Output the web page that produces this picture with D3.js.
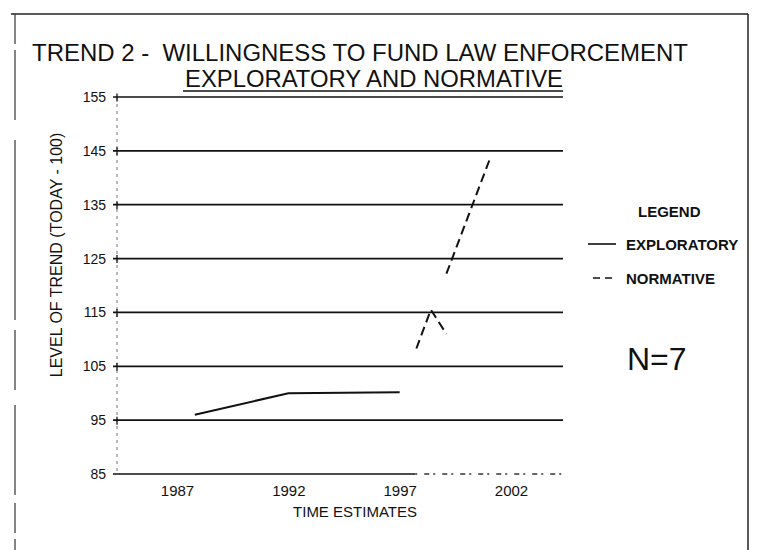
<!DOCTYPE html>
<html>
<head>
<meta charset="utf-8">
<script src="https://cdn.jsdelivr.net/npm/d3@7"></script>
<style>
  body { margin: 0; background: #fff; }
  text { font-family: "Liberation Sans", Arial, sans-serif; fill: #111; }
</style>
</head>
<body>
<div id="chart"></div>
<script>
// data
const years = [1987, 1992, 1997, 2002];
const levels = [155, 145, 135, 125, 115, 105, 95, 85];

const exploratoryYears = [1987.8, 1992, 1997];
const exploratoryValues = [96, 100, 100.2];

// normative line is broken in two pieces on the copy
const normativeYears = [1997.75, 1998.4, 1999.1, null, 1999.1, 2001.05];
const normativeValues = [108.3, 115.5, 111, null, 122.2, 143.5];

const legendLabels = ["EXPLORATORY", "NORMATIVE"];

const width = 757;
const height = 550;

const svg = d3.select("#chart")
  .append("svg")
  .attr("width", width)
  .attr("height", height);

// scales
const x = d3.scaleLinear().domain([1987, 2002]).range([177, 511]);
const y = d3.scaleLinear().domain([85, 155]).range([474, 97]);
const gridLeft = 113, gridRight = 563, axisX = 117;

// frame of the scanned page
svg.append("line")
  .attr("x1", 11).attr("x2", 748).attr("y1", 14).attr("y2", 14)
  .attr("stroke", "#222").attr("stroke-width", 1.5);
svg.append("line")
  .attr("x1", 748).attr("x2", 748).attr("y1", 14).attr("y2", height)
  .attr("stroke", "#222").attr("stroke-width", 1.5);
svg.append("line")
  .attr("x1", 15).attr("x2", 15).attr("y1", 14).attr("y2", height)
  .attr("stroke", "#333").attr("stroke-width", 1.2)
  .attr("stroke-dasharray", "30 6 70 20 180 10 60 15 90 8");

// title
svg.append("text")
  .attr("x", 32).attr("y", 61)
  .style("font-size", "23px")
  .attr("xml:space", "preserve")
  .attr("textLength", 656)
  .attr("lengthAdjust", "spacingAndGlyphs")
  .text("TREND 2 -  WILLINGNESS TO FUND LAW ENFORCEMENT");
svg.append("text")
  .attr("x", 185).attr("y", 87)
  .style("font-size", "23px")
  .attr("textLength", 378)
  .attr("lengthAdjust", "spacingAndGlyphs")
  .text("EXPLORATORY AND NORMATIVE");
svg.append("line")
  .attr("x1", 183).attr("x2", 563).attr("y1", 91).attr("y2", 91)
  .attr("stroke", "#111").attr("stroke-width", 1.5);

// faint y axis line
svg.append("line")
  .attr("x1", axisX).attr("x2", axisX).attr("y1", y(155)).attr("y2", y(85))
  .attr("stroke", "#777").attr("stroke-width", 1)
  .attr("stroke-dasharray", "3 4");

// gridlines
svg.selectAll(".grid")
  .data(levels.filter(d => d !== 85))
  .enter()
  .append("line")
  .attr("class", "grid")
  .attr("x1", gridLeft).attr("x2", gridRight)
  .attr("y1", d => y(d)).attr("y2", d => y(d))
  .attr("stroke", "#111").attr("stroke-width", 1.7);

// y axis ticks and labels
const yAxis = svg.append("g")
  .attr("transform", `translate(${axisX},0)`)
  .call(d3.axisLeft(y).tickValues(levels).tickSize(0).tickPadding(11));
yAxis.select(".domain").remove();
yAxis.selectAll("text")
  .style("font-size", "14px")
  .style("font-family", "'Liberation Sans', Arial, sans-serif")
  .attr("fill", "#111");
yAxis.selectAll(".tick")
  .filter(d => d !== 85)
  .append("line")
  .attr("x1", 0).attr("x2", 0).attr("y1", -4).attr("y2", 4)
  .attr("stroke", "#111").attr("stroke-width", 1.3);

// bottom line (85), solid then broken on the right
svg.append("line")
  .attr("x1", gridLeft).attr("x2", x(1997.7))
  .attr("y1", y(85)).attr("y2", y(85))
  .attr("stroke", "#111").attr("stroke-width", 1.5);
svg.append("line")
  .attr("x1", x(1997.7)).attr("x2", gridRight)
  .attr("y1", y(85)).attr("y2", y(85))
  .attr("stroke", "#333").attr("stroke-width", 1.3)
  .attr("stroke-dasharray", "2 7 5 4");

// x axis labels
const xAxis = svg.append("g")
  .attr("transform", `translate(0,${y(85)})`)
  .call(d3.axisBottom(x).tickValues(years).tickFormat(d3.format("d")).tickSize(0).tickPadding(11));
xAxis.select(".domain").remove();
xAxis.selectAll("text")
  .style("font-size", "15px")
  .style("font-family", "'Liberation Sans', Arial, sans-serif")
  .attr("fill", "#111");

// axis titles
svg.append("text")
  .attr("x", 355).attr("y", 517)
  .attr("text-anchor", "middle")
  .style("font-size", "15px")
  .text("TIME ESTIMATES");
svg.append("text")
  .attr("transform", "translate(62,255) rotate(-90)")
  .attr("text-anchor", "middle")
  .style("font-size", "16px")
  .text("LEVEL OF TREND (TODAY - 100)");

// series
const line = d3.line()
  .defined(d => d[0] !== null)
  .x(d => x(d[0]))
  .y(d => y(d[1]));

svg.append("path")
  .datum(d3.zip(exploratoryYears, exploratoryValues))
  .attr("d", line)
  .attr("fill", "none")
  .attr("stroke", "#111")
  .attr("stroke-width", 2);

svg.append("path")
  .datum(d3.zip(normativeYears, normativeValues))
  .attr("d", line)
  .attr("fill", "none")
  .attr("stroke", "#111")
  .attr("stroke-width", 2)
  .attr("stroke-dasharray", "9 5");

// legend
svg.append("text")
  .attr("x", 638).attr("y", 217)
  .style("font-size", "15px")
  .style("font-weight", "bold")
  .text("LEGEND");

const legend = svg.selectAll(".legend")
  .data(legendLabels)
  .enter()
  .append("g")
  .attr("class", "legend")
  .attr("transform", (d, i) => `translate(0,${244 + i * 34})`);

legend.append("line")
  .attr("x1", (d, i) => i === 0 ? 588 : 593)
  .attr("x2", (d, i) => i === 0 ? 616 : 614)
  .attr("y1", 0).attr("y2", 0)
  .attr("stroke", "#111").attr("stroke-width", 1.6)
  .attr("stroke-dasharray", (d, i) => i === 0 ? null : "7 5");

legend.append("text")
  .attr("x", 626).attr("y", 6)
  .style("font-size", "15px")
  .style("font-weight", "bold")
  .text(d => d);

svg.append("text")
  .attr("x", 627).attr("y", 370)
  .style("font-size", "32px")
  .text("N=7");
</script>
</body>
</html>
